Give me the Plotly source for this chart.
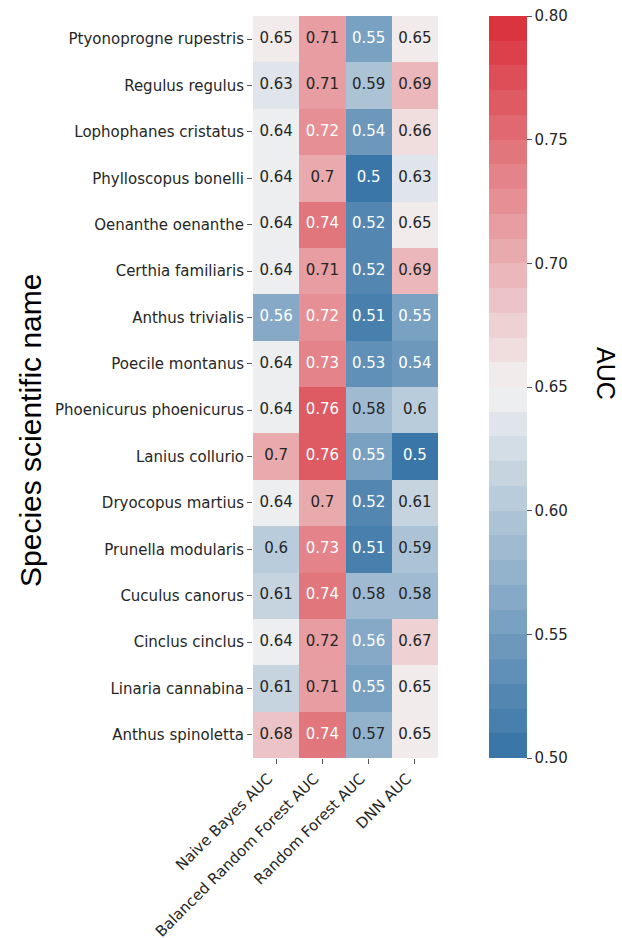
import plotly.graph_objects as go
import math

species = ["Ptyonoprogne rupestris", "Regulus regulus", "Lophophanes cristatus",
           "Phylloscopus bonelli", "Oenanthe oenanthe", "Certhia familiaris",
           "Anthus trivialis", "Poecile montanus", "Phoenicurus phoenicurus",
           "Lanius collurio", "Dryocopus martius", "Prunella modularis",
           "Cuculus canorus", "Cinclus cinclus", "Linaria cannabina",
           "Anthus spinoletta"]
models = ["Naive Bayes AUC", "Balanced Random Forest AUC", "Random Forest AUC", "DNN AUC"]

nb_auc = [0.65, 0.63, 0.64, 0.64, 0.64, 0.64, 0.56, 0.64, 0.64, 0.70, 0.64, 0.60, 0.61, 0.64, 0.61, 0.68]
brf_auc = [0.71, 0.71, 0.72, 0.70, 0.74, 0.71, 0.72, 0.73, 0.76, 0.76, 0.70, 0.73, 0.74, 0.716, 0.71, 0.74]
rf_auc = [0.55, 0.59, 0.54, 0.50, 0.52, 0.52, 0.51, 0.53, 0.58, 0.55, 0.52, 0.51, 0.58, 0.56, 0.55, 0.57]
dnn_auc = [0.65, 0.69, 0.66, 0.63, 0.65, 0.69, 0.55, 0.54, 0.60, 0.50, 0.61, 0.59, 0.58, 0.67, 0.65, 0.65]

cbar_ticks = [0.50, 0.55, 0.60, 0.65, 0.70, 0.75, 0.80]
vmin, vmax, n_colors = 0.50, 0.80, 30

# diverging palette (blue -> light -> red), blended like seaborn
blue = (58, 118, 168)
light = (242, 242, 242)
red = (218, 52, 63)


def blend(t):
    if t <= 0.5:
        a, b, u = blue, light, t / 0.5
    else:
        a, b, u = light, red, (t - 0.5) / 0.5
    return tuple(a[i] + (b[i] - a[i]) * u for i in range(3))


palette = [blend(i / (n_colors - 1)) for i in range(n_colors)]


def rgb(c):
    return "rgb(%d,%d,%d)" % tuple(round(v) for v in c)


colorscale = []
eps = 1e-6
for k, c in enumerate(palette):
    lo = 0.0 if k == 0 else k / n_colors - eps
    hi = 1.0 if k == n_colors - 1 else (k + 1) / n_colors - eps
    colorscale.append([lo, rgb(c)])
    colorscale.append([hi, rgb(c)])


def lum(c):
    out = []
    for v in c:
        v = v / 255
        out.append(v / 12.92 if v <= 0.03928 else ((v + 0.055) / 1.055) ** 2.4)
    return 0.2126 * out[0] + 0.7152 * out[1] + 0.0722 * out[2]


columns = [nb_auc, brf_auc, rf_auc, dnn_auc]
z = [[columns[j][i] for j in range(4)] for i in range(len(species))]

tx, ty, tt, tc = [], [], [], []
for i, sp in enumerate(species):
    for j, m in enumerate(models):
        v = z[i][j]
        k = min(n_colors - 1, max(0, int(math.floor((v - vmin) / (vmax - vmin) * n_colors + 1e-9))))
        tx.append(m)
        ty.append(sp)
        tt.append(format(v, ".2g"))
        tc.append("#262626" if lum(palette[k]) > 0.408 else "white")

fig = go.Figure()
fig.add_trace(go.Heatmap(
    z=z, x=models, y=species, zmin=vmin, zmax=vmax, colorscale=colorscale,
    xgap=0, ygap=0, hoverinfo="skip",
    colorbar=dict(
        x=(489 - 253) / 185, xanchor="left", xpad=0, ypad=0, y=0.5, yanchor="middle",
        len=1, lenmode="fraction", thickness=38, thicknessmode="pixels",
        outlinewidth=0, tickvals=cbar_ticks, ticktext=["%.2f" % t for t in cbar_ticks],
        ticks="outside", ticklen=5, tickwidth=1, tickcolor="#555555",
        tickfont=dict(family="DejaVu Sans", size=15, color="#262626"),
    ),
))
fig.add_trace(go.Scatter(
    x=tx, y=ty, text=tt, mode="text", hoverinfo="skip", showlegend=False,
    textfont=dict(family="DejaVu Sans", size=15, color=tc),
))

fig.update_layout(
    width=622, height=938,
    margin=dict(l=253, r=184, t=16, b=180, autoexpand=False),
    paper_bgcolor="white", plot_bgcolor="white",
    showlegend=False,
    xaxis=dict(categoryorder="array", categoryarray=models, tickangle=-45,
               range=[-0.5, len(models) - 0.5], ticklabelshift=-8,
               ticks="outside", ticklen=5, tickcolor="#555555", showgrid=False,
               zeroline=False, showline=False, automargin=False,
               tickfont=dict(family="DejaVu Sans", size=15, color="#262626")),
    yaxis=dict(categoryorder="array", categoryarray=species,
               range=[len(species) - 0.5, -0.5],
               ticks="outside", ticklen=5, tickcolor="#555555", showgrid=False,
               zeroline=False, showline=False, automargin=False,
               tickfont=dict(family="DejaVu Sans", size=15, color="#262626")),
    annotations=[
        dict(text="Species scientific name", xref="paper", yref="paper",
             x=(30 - 253) / 185, y=1 - (431 - 16) / 742, xanchor="center", yanchor="middle",
             textangle=-90, showarrow=False,
             font=dict(family="Liberation Sans", size=30, color="black")),
        dict(text="AUC", xref="paper", yref="paper",
             x=(606 - 253) / 185, y=1 - (373 - 16) / 742, xanchor="center", yanchor="middle",
             textangle=90, showarrow=False,
             font=dict(family="Liberation Sans", size=25, color="black")),
    ],
)

fig.write_html("out.html", post_script="document.body.style.margin='0';",
               config={"displayModeBar": False})
